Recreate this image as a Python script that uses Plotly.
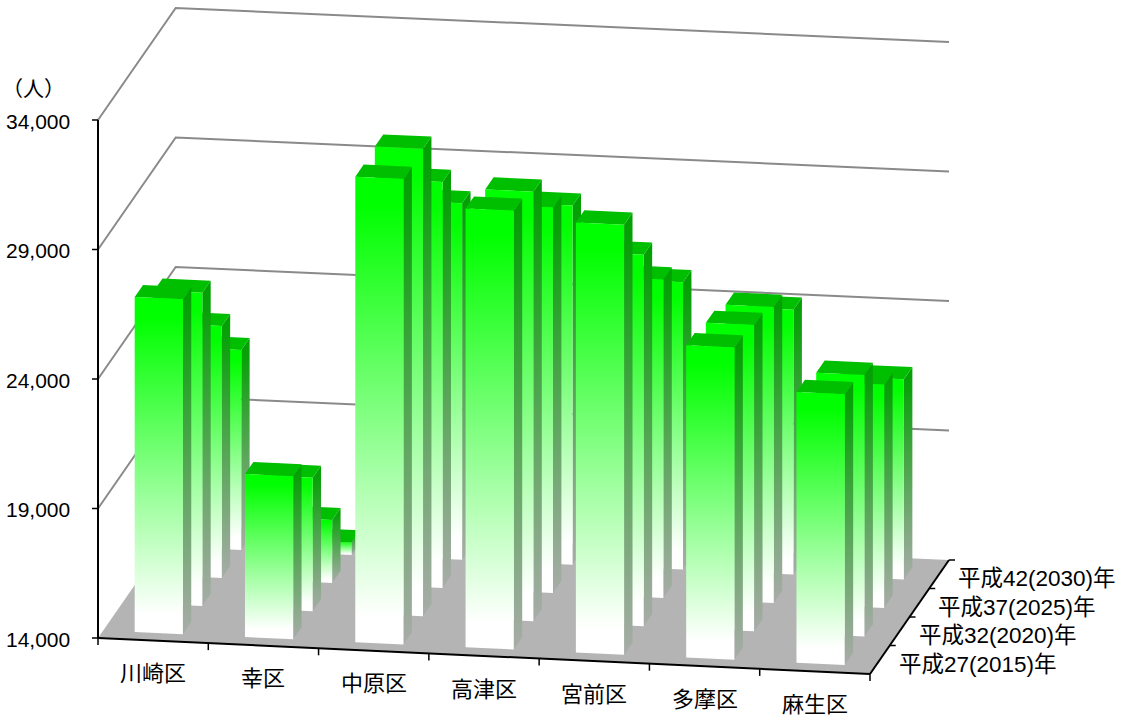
import plotly.graph_objects as go

# Wards, survey years and population per ward (one list per projected year)
wards = ["川崎区", "幸区", "中原区", "高津区", "宮前区", "多摩区", "麻生区"]
years = ["平成27(2015)年", "平成32(2020)年", "平成37(2025)年", "平成42(2030)年"]
pop_2015 = [26930, 20290, 31970, 30940, 30600, 26060, 24450]
pop_2020 = [26100, 19150, 32050, 30585, 28345, 25825, 24095]
pop_2025 = [23730, 16430, 29680, 28880, 26300, 25430, 22620]
pop_2030 = [21720, 14480, 27765, 27865, 25095, 24225, 21725]
series = [pop_2015, pop_2020, pop_2025, pop_2030]
value_ticks = [14000, 19000, 24000, 29000, 34000]

VALUE_MIN = 14000
UNIT = 518 / 20000  # screen units per person

# Floor corners of the oblique 3D box
FRONT_L, FRONT_R = (98, 638), (870, 674)
BACK_L, BACK_R = (175.7, 526), (949, 560)

# Bar footprint within a category cell and a depth row
U0, U1 = 0.285, 0.722
V0, V1 = 0.27, 0.70

GRID = "#8a8a8a"
AXIS = "#000000"
FLOOR = "#b4b4b4"
FONT_FAMILY = "Liberation Sans, Noto Sans CJK JP"
VALUE_FONT = dict(family=FONT_FAMILY, size=21, color="#000000")
WARD_FONT = dict(family=FONT_FAMILY, size=22, color="#000000")
YEAR_FONT = dict(family=FONT_FAMILY, size=22.5, color="#000000")


def project(u, v, value=VALUE_MIN):
    """Map category position u, depth row v and a value onto the plot plane."""
    s, t = u / len(wards), v / len(years)
    fx = FRONT_L[0] + (FRONT_R[0] - FRONT_L[0]) * s
    fy = FRONT_L[1] + (FRONT_R[1] - FRONT_L[1]) * s
    bx = BACK_L[0] + (BACK_R[0] - BACK_L[0]) * s
    by = BACK_L[1] + (BACK_R[1] - BACK_L[1]) * s
    return fx + (bx - fx) * t, fy + (by - fy) * t - (value - VALUE_MIN) * UNIT


fig = go.Figure()


def polygon(points, color=None, gradient=None):
    xs = [p[0] for p in points] + [points[0][0]]
    ys = [p[1] for p in points] + [points[0][1]]
    kw = dict(fillgradient=gradient) if gradient else dict(fillcolor=color)
    fig.add_trace(go.Scatter(x=xs, y=ys, mode="lines", fill="toself",
                             line=dict(width=0), hoverinfo="skip", **kw))


def path(points, color, width):
    fig.add_trace(go.Scatter(x=[p[0] for p in points], y=[p[1] for p in points],
                             mode="lines", line=dict(color=color, width=width),
                             hoverinfo="skip"))


def shaded(points, stops):
    ys = [p[1] for p in points]
    return dict(type="vertical", start=min(ys), stop=max(ys), colorscale=stops)


FRONT_STOPS = [[0, "#00ff00"], [0.06, "#00ff00"], [0.94, "#ffffff"], [1, "#ffffff"]]
SIDE_STOPS = [[0, "#00a000"], [0.1, "#0ca00c"], [1, "#a8aca8"]]
TOP_COLOR = "#00bf00"

# Floor
polygon([project(0, 0), project(7, 0), project(7, 4), project(0, 4)], color=FLOOR)

# Wall gridlines, left wall then back wall
for tick in value_ticks[1:]:
    path([project(0, 0, tick), project(0, 4, tick), project(7, 4, tick)], GRID, 2)

# Bars, painted from the back row forward
for row in range(len(years) - 1, -1, -1):
    for i in range(len(wards)):
        val = series[row][i]
        u0, u1 = i + U0, i + U1
        v0, v1 = row + V0, row + V1
        side = [project(u1, v0), project(u1, v1), project(u1, v1, val), project(u1, v0, val)]
        polygon(side, gradient=shaded(side, SIDE_STOPS))
        polygon([project(u0, v0, val), project(u1, v0, val),
                 project(u1, v1, val), project(u0, v1, val)], color=TOP_COLOR)
        front = [project(u0, v0), project(u1, v0), project(u1, v0, val), project(u0, v0, val)]
        polygon(front, gradient=shaded(front, FRONT_STOPS))

# Axis lines
path([project(0, 0, value_ticks[-1]), project(0, 0)], AXIS, 2)
path([project(0, 0), project(7, 0)], AXIS, 2)
path([project(7, 0), project(7, 4)], AXIS, 2)

# Tick marks
for tick in value_ticks:
    x, y = project(0, 0, tick)
    path([(x - 6, y), (x, y)], AXIS, 1.5)
for i in range(len(wards) + 1):
    x, y = project(i, 0)
    path([(x, y), (x, y + 7)], AXIS, 1.5)
for r in range(1, len(years) + 1):
    x, y = project(7, r)
    path([(x, y), (x + 6, y)], AXIS, 1.5)

# Text
annotations = []
for tick in value_ticks:
    x, y = project(0, 0, tick)
    annotations.append(dict(x=x - 26, y=y + 1, text=f"{tick:,}", xanchor="right",
                            yanchor="middle", font=VALUE_FONT))
annotations.append(dict(x=33, y=88, text="（人）", xanchor="center", yanchor="middle",
                        font=VALUE_FONT))
for i, name in enumerate(wards):
    x, y = project(i + 0.5, 0)
    annotations.append(dict(x=x, y=y + 33, text=name, xanchor="center", yanchor="middle",
                            font=WARD_FONT))
for r, name in enumerate(years):
    x, y = project(7, r + 0.5)
    annotations.append(dict(x=x + 17, y=y + 4.5, text=name, xanchor="left", yanchor="middle",
                            font=YEAR_FONT))
for a in annotations:
    a.update(xref="x", yref="y", showarrow=False)

fig.update_layout(
    width=1126, height=720, margin=dict(l=0, r=0, t=0, b=0),
    paper_bgcolor="white", plot_bgcolor="white", showlegend=False,
    xaxis=dict(range=[0, 1126], visible=False),
    yaxis=dict(range=[720, 0], visible=False),
    annotations=annotations,
)
fig.write_html("out.html", config=dict(displayModeBar=False))
